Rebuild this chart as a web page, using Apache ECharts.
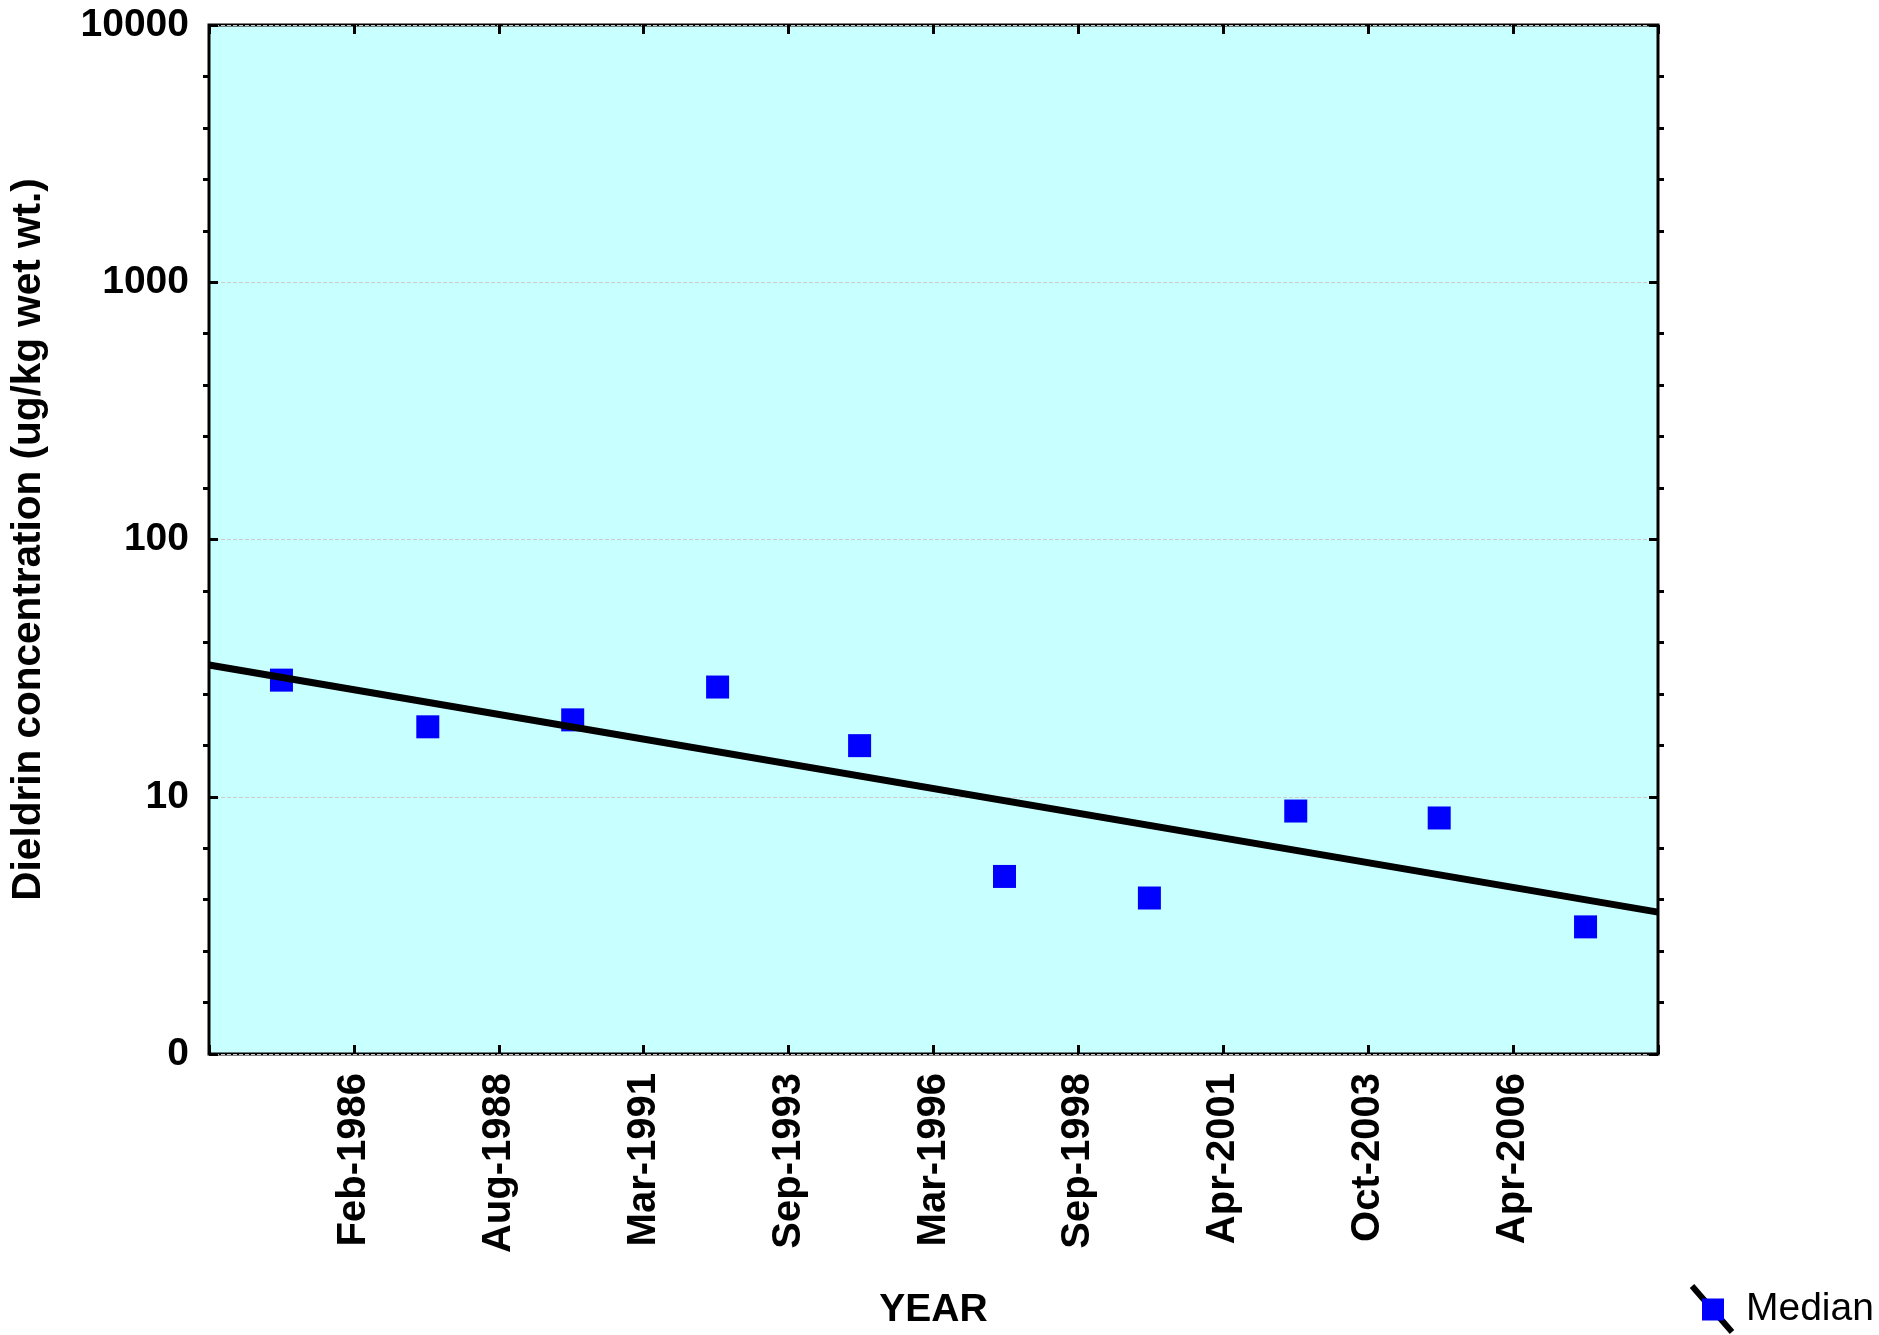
<!DOCTYPE html>
<html>
<head>
<meta charset="utf-8">
<script src="https://cdn.jsdelivr.net/npm/echarts@6/dist/echarts.min.js"></script>
<style>
html,body{margin:0;padding:0;background:#fff;width:1879px;height:1335px;overflow:hidden;}
#chart{position:absolute;left:0;top:0;width:1879px;height:1335px;}
</style>
</head>
<body>
<div id="chart"></div>
<script>
// Tick labels on the x axis (tick positions 0..10)
const tickLabels = ['', 'Feb-1986', 'Aug-1988', 'Mar-1991', 'Sep-1993', 'Mar-1996', 'Sep-1998', 'Apr-2001', 'Oct-2003', 'Apr-2006', ''];
// Sample positions (in tick units) and median values
const sampleX = [0.50, 1.51, 2.51, 3.51, 4.49, 5.49, 6.49, 7.50, 8.49, 9.50];
const medians = [28.4, 18.7, 19.9, 26.7, 15.8, 4.9, 4.04, 8.8, 8.27, 3.12];
// Trend line end points
const trendX = [0, 10];
const trendY = [32.5, 3.56];
// Y tick labels
const yTickLabels = {1: '0', 10: '10', 100: '100', 1000: '1000', 10000: '10000'};

const FONT = 'Liberation Sans, Arial, sans-serif';
const chart = echarts.init(document.getElementById('chart'), null, {renderer: 'canvas', width: 1879, height: 1335});

const medianData = sampleX.map((x, i) => [x, medians[i]]);
const trendData = trendX.map((x, i) => [x, trendY[i]]);

const minorAxis = (pos) => ({
  type: 'value', min: 0, max: 4, interval: 1, position: pos,
  axisLine: {show: false, onZero: false}, axisLabel: {show: false}, splitLine: {show: false},
  axisTick: {show: false},
  minorTick: {show: true, splitNumber: 5, length: 6, lineStyle: {color: '#000', width: 3}}
});

const option = {
  animation: false,
  backgroundColor: '#ffffff',
  grid: {
    left: 207, top: 25, right: 221, bottom: 281,
    show: true, backgroundColor: '#C8FFFF', borderColor: '#000', borderWidth: 3,
    containLabel: false
  },
  xAxis: [{
    type: 'value', min: 0, max: 10, interval: 1, position: 'bottom',
    name: 'YEAR', nameLocation: 'middle', nameGap: 237,
    nameTextStyle: {fontFamily: FONT, fontWeight: 'bold', fontSize: 39, lineHeight: 39, color: '#000'},
    axisLine: {show: false, onZero: false},
    axisTick: {show: true, inside: true, length: 9, lineStyle: {color: '#000', width: 3}},
    splitLine: {show: false},
    axisLabel: {
      rotate: 90, margin: 19, fontFamily: FONT, fontWeight: 'bold', fontSize: 40, color: '#000',
      showMinLabel: true, showMaxLabel: true,
      formatter: (v) => tickLabels[Math.round(v)] || ''
    }
  }, {
    type: 'value', min: 0, max: 10, interval: 1, position: 'top',
    axisLine: {show: false, onZero: false}, axisLabel: {show: false}, splitLine: {show: false},
    axisTick: {show: true, inside: true, length: 9, lineStyle: {color: '#000', width: 3}}
  }],
  yAxis: [{
    type: 'log', logBase: 10, min: 1, max: 10000, position: 'left',
    name: 'Dieldrin concentration (ug/kg wet wt.)', nameLocation: 'middle', nameGap: 160,
    nameTextStyle: {fontFamily: FONT, fontWeight: 'bold', fontSize: 40.5, color: '#000'},
    axisLine: {show: false, onZero: false},
    axisTick: {show: true, inside: true, length: 9, lineStyle: {color: '#000', width: 3}},
    splitLine: {show: true, lineStyle: {color: '#cccccc', type: 'dashed', width: 1}},
    axisLabel: {
      margin: 20, fontFamily: FONT, fontWeight: 'bold', fontSize: 39, color: '#000',
      formatter: (v) => yTickLabels[Math.round(v)] !== undefined ? yTickLabels[Math.round(v)] : ''
    }
  }, {
    type: 'log', logBase: 10, min: 1, max: 10000, position: 'right',
    axisLine: {show: false, onZero: false}, axisLabel: {show: false}, splitLine: {show: false},
    axisTick: {show: true, inside: true, length: 9, lineStyle: {color: '#000', width: 3}}
  }, minorAxis('left'), minorAxis('right')],
  legend: {
    data: ['Median'], left: 1702, top: 1290, padding: 0,
    itemWidth: 22, itemHeight: 22, icon: 'rect', z: 6,
    textStyle: {fontFamily: FONT, fontSize: 39, color: '#000', lineHeight: 38, padding: [0, 0, 0, 17]}
  },
  graphic: [{
    type: 'line', z: 5,
    shape: {x1: 1692, y1: 1286, x2: 1732, y2: 1332},
    style: {stroke: '#000', lineWidth: 6}
  }],
  series: [{
    name: 'Median', type: 'scatter', xAxisIndex: 0, yAxisIndex: 0,
    symbol: 'rect', symbolSize: 23, z: 2,
    itemStyle: {color: '#0000FF', opacity: 1},
    data: medianData
  }, {
    name: 'Trend', type: 'line', xAxisIndex: 0, yAxisIndex: 0,
    symbol: 'none', z: 3, clip: false,
    lineStyle: {color: '#000', width: 7},
    data: trendData
  }]
};
chart.setOption(option);
</script>
</body>
</html>
